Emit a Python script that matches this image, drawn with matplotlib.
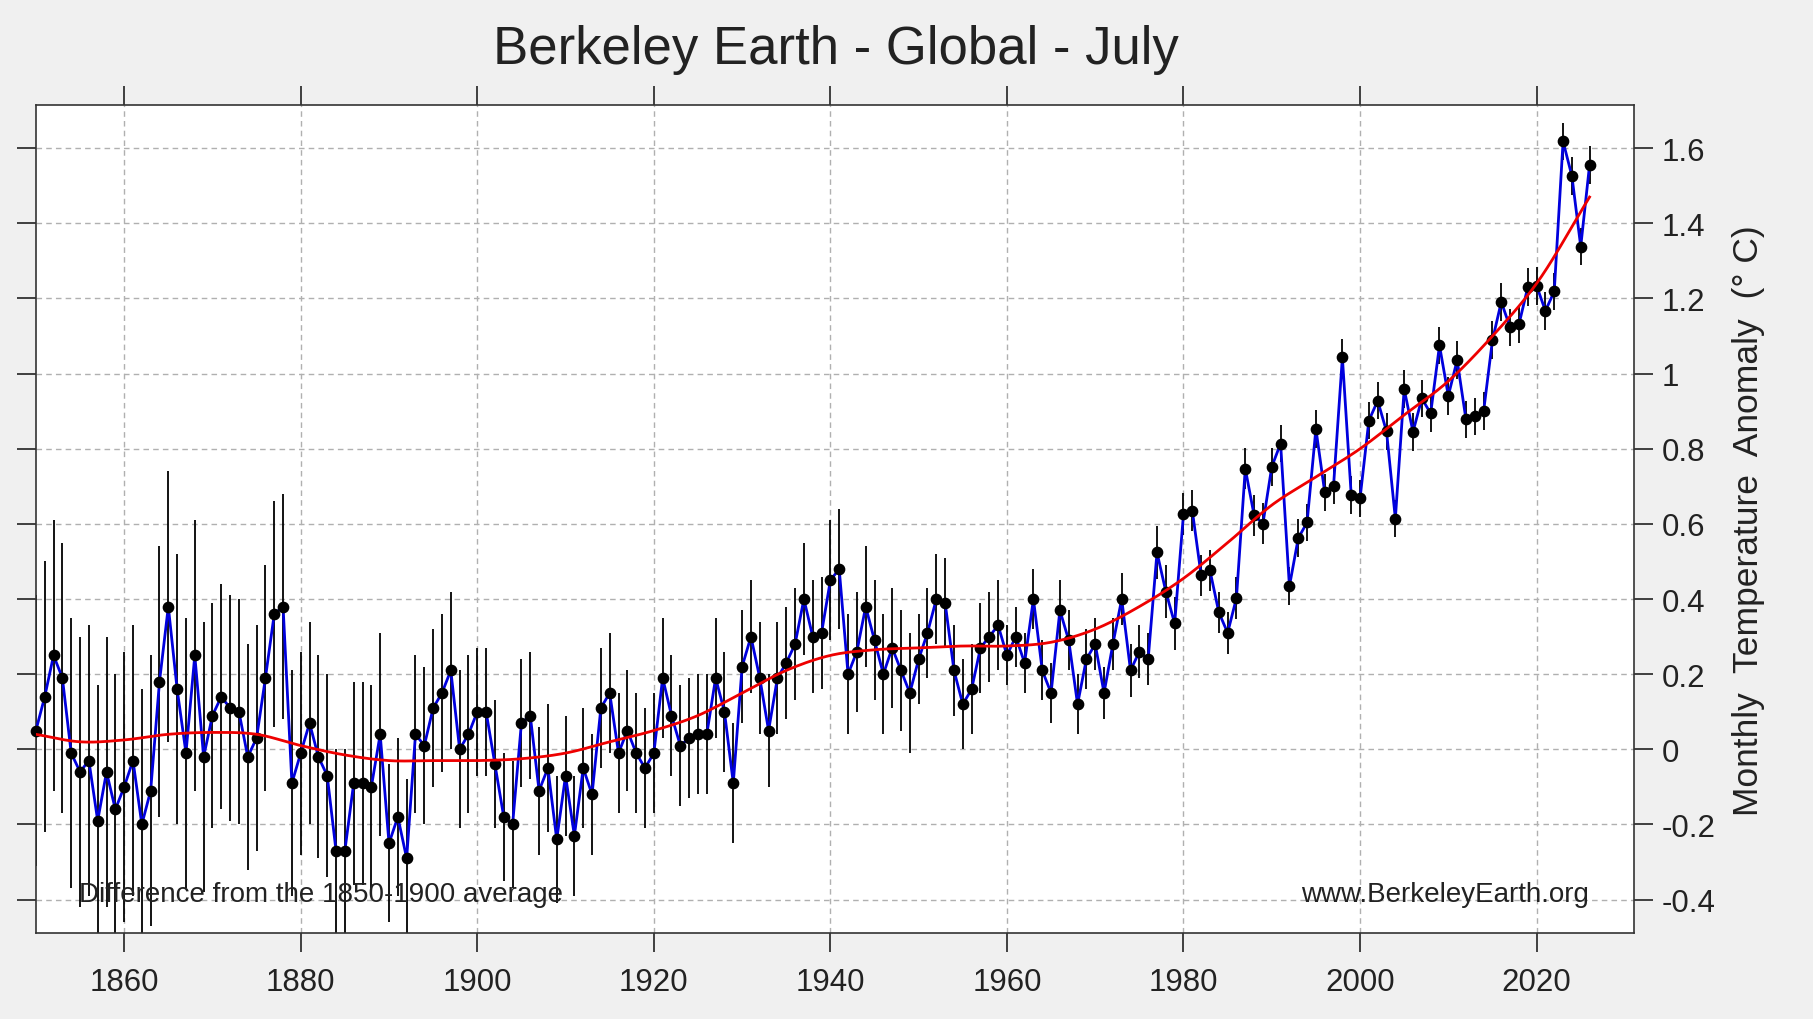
import numpy as np
import matplotlib
matplotlib.use("Agg")
import matplotlib.pyplot as plt

years = list(range(1850, 2027))
anomaly = [
 0.05, 0.14, 0.25, 0.19, -0.01, -0.06, -0.03, -0.19, -0.06, -0.16,
 -0.10, -0.03, -0.20, -0.11, 0.18, 0.38, 0.16, -0.01, 0.25, -0.02,
 0.09, 0.14, 0.11, 0.10, -0.02, 0.03, 0.19, 0.36, 0.38, -0.09,
 -0.01, 0.07, -0.02, -0.07, -0.27, -0.27, -0.09, -0.09, -0.10, 0.04,
 -0.25, -0.18, -0.29, 0.04, 0.01, 0.11, 0.15, 0.21, 0.00, 0.04,
 0.10, 0.10, -0.04, -0.18, -0.20, 0.07, 0.09, -0.11, -0.05, -0.24,
 -0.07, -0.23, -0.05, -0.12, 0.11, 0.15, -0.01, 0.05, -0.01, -0.05,
 -0.01, 0.19, 0.09, 0.01, 0.03, 0.04, 0.04, 0.19, 0.10, -0.09,
 0.22, 0.30, 0.19, 0.05, 0.19, 0.23, 0.28, 0.40, 0.30, 0.31,
 0.45, 0.48, 0.20, 0.26, 0.38, 0.29, 0.20, 0.27, 0.21, 0.15,
 0.24, 0.31, 0.40, 0.39, 0.21, 0.12, 0.16, 0.27, 0.30, 0.33,
 0.25, 0.30, 0.23, 0.40, 0.21, 0.15, 0.37, 0.29, 0.12, 0.24,
 0.28, 0.15, 0.28, 0.40, 0.21, 0.26, 0.24, 0.524, 0.42, 0.335,
 0.626, 0.635, 0.463, 0.476, 0.365, 0.31, 0.403, 0.747, 0.623, 0.601,
 0.752, 0.814, 0.434, 0.562, 0.604, 0.853, 0.684, 0.702, 1.043, 0.677,
 0.668, 0.875, 0.928, 0.846, 0.614, 0.959, 0.845, 0.934, 0.894, 1.075,
 0.941, 1.036, 0.878, 0.886, 0.90, 1.089, 1.191, 1.123, 1.131, 1.230,
 1.234, 1.167, 1.219, 1.618, 1.526, 1.338, 1.555]

# half-width of uncertainty per decade (1850s ... 2020s)
decade_unc = [0.36, 0.36, 0.30, 0.27, 0.21, 0.17, 0.16, 0.16, 0.15, 0.16,
              0.12, 0.08, 0.07, 0.055, 0.05, 0.05, 0.05, 0.05]

trend_years = [1850, 1855, 1860, 1865, 1870, 1875, 1880, 1885, 1890, 1895, 1900,
               1905, 1910, 1915, 1920, 1925, 1930, 1935, 1940, 1945, 1950, 1955,
               1960, 1965, 1970, 1975, 1980, 1985, 1990, 1995, 2000, 2005, 2010,
               2015, 2020, 2026]
trend_vals = [0.04, 0.02, 0.025, 0.04, 0.045, 0.04, 0.01, -0.015, -0.03, -0.03, -0.03,
              -0.025, -0.01, 0.02, 0.05, 0.09, 0.15, 0.21, 0.25, 0.265, 0.27, 0.275,
              0.275, 0.285, 0.32, 0.38, 0.455, 0.55, 0.65, 0.725, 0.80, 0.89, 0.98,
              1.10, 1.24, 1.47]

yticks = [-0.4, -0.2, 0, 0.2, 0.4, 0.6, 0.8, 1.0, 1.2, 1.4, 1.6]
ytick_labels = ["-0.4", "-0.2", "0", "0.2", "0.4", "0.6", "0.8", "1", "1.2", "1.4", "1.6"]
xticks = [1860, 1880, 1900, 1920, 1940, 1960, 1980, 2000, 2020]

def smooth_curve(xk, yk, n=20):
    xk = np.asarray(xk, float); yk = np.asarray(yk, float)
    m = np.gradient(yk, xk)
    xs, ys = [], []
    for i in range(len(xk) - 1):
        h = xk[i+1] - xk[i]
        t = np.linspace(0, 1, n, endpoint=False)
        h00 = 2*t**3 - 3*t**2 + 1; h10 = t**3 - 2*t**2 + t
        h01 = -2*t**3 + 3*t**2; h11 = t**3 - t**2
        xs.append(xk[i] + t*h)
        ys.append(h00*yk[i] + h10*h*m[i] + h01*yk[i+1] + h11*h*m[i+1])
    xs.append([xk[-1]]); ys.append([yk[-1]])
    return np.concatenate(xs), np.concatenate(ys)

plt.rcParams['font.family'] = ['Liberation Sans', 'DejaVu Sans']
fig = plt.figure(figsize=(18.13, 10.2), dpi=100, facecolor='#f0f0f0')
ax = fig.add_axes([0.0198, 0.0839, 0.8813, 0.8118])
ax.set_facecolor('white')

x = np.array(years)
y = np.array(anomaly)
unc = np.array([decade_unc[(yr - 1850) // 10] for yr in years])

ax.vlines(x, y - unc, y + unc, color='black', lw=1.3, zorder=2, clip_on=True)
ax.plot(x, y, color='#0000dd', lw=2.0, zorder=3, clip_on=False)
ax.scatter(x, y, s=55, color='black', zorder=4, clip_on=False)
tx, ty = smooth_curve(trend_years, trend_vals)
ax.plot(tx, ty, color='#ee0000', lw=2.0, zorder=5)

ax.set_xlim(1850, 2031)
ax.set_ylim(-0.49, 1.714)
ax.set_xticks(xticks)
ax.set_yticks(yticks)
ax.set_yticklabels(ytick_labels)
ax.grid(True, color='#b0b0b0', ls=(0, (4, 3)), lw=1.0)
ax.set_axisbelow(True)
ax.tick_params(axis='both', which='both', direction='out', length=14, width=1.2,
               top=True, bottom=True, left=True, right=True,
               labelleft=False, labelright=True, labelsize=22.5, colors='#222222', pad=6)
ax.tick_params(axis='x', pad=10)
for s in ax.spines.values():
    s.set_color('#333333'); s.set_linewidth(1.2)
ax.yaxis.set_label_position('right')
ax.set_ylabel('Monthly  Temperature  Anomaly  (° C)', fontsize=25.5, color='#222222', labelpad=12)
fig.text(0.461, 0.951, 'Berkeley Earth - Global - July', fontsize=38, ha='center', va='center', color='#222222')
ax.text(0.027, 0.048, 'Difference from the 1850-1900 average', transform=ax.transAxes,
        fontsize=20, color='#222222', va='center', ha='left')
ax.text(0.972, 0.048, 'www.BerkeleyEarth.org', transform=ax.transAxes,
        fontsize=20, color='#222222', va='center', ha='right')

fig.savefig('out.png', dpi=100, facecolor=fig.get_facecolor())
